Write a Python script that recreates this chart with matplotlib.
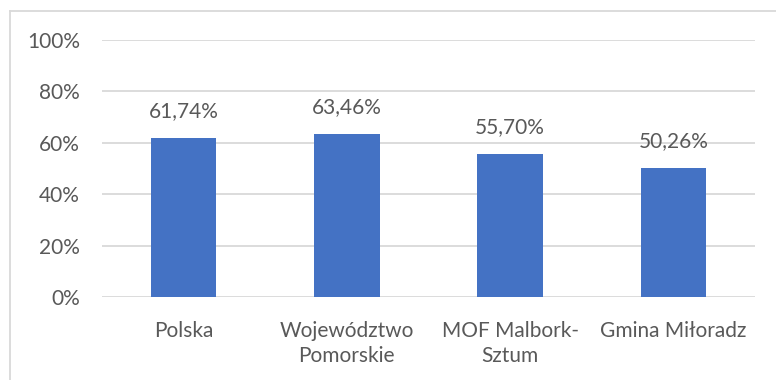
import matplotlib
matplotlib.use("Agg")
import matplotlib.pyplot as plt
from matplotlib.lines import Line2D
from matplotlib.ticker import FuncFormatter

categories = ["Polska", "Województwo\nPomorskie", "MOF Malbork-\nSztum", "Gmina Miłoradz"]
values = [61.74, 63.46, 55.70, 50.26]
yticks = [0, 20, 40, 60, 80, 100]

plt.rcParams["font.family"] = ["Lato", "DejaVu Sans"]
text_color = "#595959"
grid_color = "#D9D9D9"
bar_color = "#4472C4"
fs = 15

W, H = 776, 380
fig = plt.figure(figsize=(W / 100, H / 100), dpi=100)
ax = fig.add_axes([102 / W, 1 - 297 / H, (755 - 102) / W, (297 - 40) / H])

x = range(len(categories))
ax.bar(x, values, width=0.4, color=bar_color, zorder=3)
for xi, v in zip(x, values):
    ax.annotate(f"{v:.2f}%".replace(".", ","), (xi, v), xytext=(0, 15),
                textcoords="offset points", ha="center", va="baseline",
                fontsize=fs, color=text_color)

ax.set_xlim(-0.5, len(categories) - 0.5)
ax.set_ylim(0, 100)
ax.set_yticks(yticks)
ax.yaxis.set_major_formatter(FuncFormatter(lambda v, p: f"{v:.0f}%"))
ax.set_xticks(list(x))
ax.set_xticklabels(categories, linespacing=1.35)
ax.tick_params(axis="both", length=0, labelsize=fs, labelcolor=text_color)
ax.tick_params(axis="y", pad=16)
ax.tick_params(axis="x", pad=17)
ax.grid(axis="y", color=grid_color, linewidth=1.3, zorder=0)
for s in ax.spines.values():
    s.set_visible(False)

# chart frame (left and top edges)
fig.add_artist(Line2D([9.5 / W, 9.5 / W], [0, 1 - 11 / H], transform=fig.transFigure,
                      color=grid_color, linewidth=1.3))
fig.add_artist(Line2D([9.5 / W, 1], [1 - 11 / H, 1 - 11 / H], transform=fig.transFigure,
                      color=grid_color, linewidth=1.3))

fig.savefig("out.png", dpi=100)
